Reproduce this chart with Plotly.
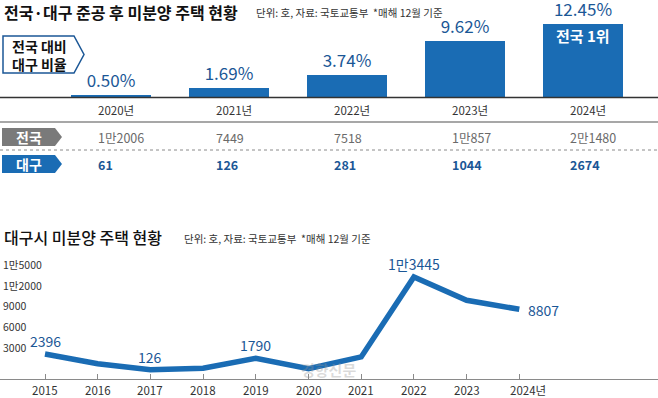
import plotly.graph_objects as go

# ---------------- data ----------------
bar_years = ["2020년", "2021년", "2022년", "2023년", "2024년"]
ratio_pct = [0.50, 1.69, 3.74, 9.62, 12.45]
national_unsold = ["1만2006", "7449", "7518", "1만857", "2만1480"]
daegu_unsold = ["61", "126", "281", "1044", "2674"]

line_years = [2015, 2016, 2017, 2018, 2019, 2020, 2021, 2022, 2023, 2024]
daegu_total = [2396, 1000, 126, 350, 1790, 280, 1977, 13445, 10104, 8807]
point_labels = ["2396", "", "126", "", "1790", "", "", "1만3445", "", "8807"]
x_tick_text = ["2015", "2016", "2017", "2018", "2019", "2020", "2021", "2022", "2023", "2024년"]
y_tick_vals = [3000, 6000, 9000, 12000, 15000]
y_tick_text = ["3000", "6000", "9000", "1만2000", "1만5000"]

# ---------------- style ----------------
W, H = 658, 398
BLUE = "#1a6cb4"
DBLUE = "#1b5796"
GRAY = "#7a7a7a"
NUM = "Noto Sans CJK KR, sans-serif"
KR = "Noto Sans CJK KR, sans-serif"


def px(p):
    return p / W


def py(p):
    return 1 - p / H


def path(pts):
    return "M " + " L ".join(f"{px(a):.5f},{py(b):.5f}" for a, b in pts) + " Z"


fig = go.Figure()

# top bar chart
fig.add_trace(go.Bar(
    x=list(range(len(ratio_pct))), y=ratio_pct, width=0.67,
    marker=dict(color=BLUE, line=dict(width=0)),
    text=[f"{v:.2f}%" for v in ratio_pct], textposition="outside",
    textfont=dict(family=NUM, size=17, color=DBLUE),
    constraintext="none", cliponaxis=False,
    xaxis="x", yaxis="y", hoverinfo="skip",
))

# bottom line chart
fig.add_trace(go.Scatter(
    x=line_years, y=daegu_total, mode="lines",
    line=dict(color=BLUE, width=5.5),
    xaxis="x2", yaxis="y2", hoverinfo="skip", cliponaxis=False,
))

bar_spacing = 118.0
bar0 = 111.0
line_spacing = 52.7
line0 = 45.0
y0_px, per1000 = 370.7, 6.97

fig.update_layout(
    width=W, height=H, margin=dict(l=0, r=0, t=0, b=0),
    paper_bgcolor="white", plot_bgcolor="rgba(0,0,0,0)",
    showlegend=False, bargap=0,
    xaxis=dict(domain=[0, 1], range=[-bar0 / bar_spacing, (W - bar0) / bar_spacing],
               visible=False, fixedrange=True),
    yaxis=dict(domain=[py(97.5), 1], range=[0, 97.5 / 5.9], visible=False),
    xaxis2=dict(domain=[0, 1], anchor="y2",
                range=[2015 - line0 / line_spacing, 2015 + (W - line0) / line_spacing],
                showline=True, linecolor="#8a8a8a", linewidth=1.2,
                showgrid=False, zeroline=False,
                ticks="inside", ticklen=5, tickcolor="#8a8a8a", tickwidth=1,
                tickvals=line_years, showticklabels=False),
    yaxis2=dict(domain=[py(379), py(255)],
                range=[-(379 - y0_px) / per1000 * 1000, (y0_px - 255) / per1000 * 1000],
                visible=False),
)

shapes = []
shapes.append(dict(type="line", xref="paper", yref="paper", x0=0, x1=1,
                   y0=py(97.5), y1=py(97.5), line=dict(color="#333", width=1.5)))
shapes.append(dict(type="line", xref="paper", yref="paper", x0=0, x1=1,
                   y0=py(122), y1=py(122), line=dict(color="#8a8a8a", width=1.5)))
shapes.append(dict(type="line", xref="paper", yref="paper", x0=0, x1=1,
                   y0=py(150), y1=py(150), line=dict(color="#8a8a8a", width=1, dash="dot")))
shapes.append(dict(type="path", xref="paper", yref="paper",
                   path=path([(3, 36), (74, 36), (84, 54.5), (74, 73), (3, 73)]),
                   fillcolor="white", line=dict(color=DBLUE, width=1.5)))
shapes.append(dict(type="path", xref="paper", yref="paper",
                   path=path([(2, 128), (55, 128), (62, 137), (55, 146), (2, 146)]),
                   fillcolor=GRAY, line=dict(width=0)))
shapes.append(dict(type="path", xref="paper", yref="paper",
                   path=path([(2, 155), (55, 155), (62, 164), (55, 173), (2, 173)]),
                   fillcolor=BLUE, line=dict(width=0)))

ann = []


def text(x, y, s, size, color="#222", family=KR, xanchor="left", bold=False, weight=None, **kw):
    f = dict(family=family, size=size, color=color)
    if bold:
        f["weight"] = "bold"
    if weight:
        f["weight"] = weight
    ann.append(dict(xref="paper", yref="paper", x=px(x), y=py(y), text=s,
                    showarrow=False, xanchor=xanchor, yanchor="middle", font=f, **kw))


# titles
text(2, 12, "전국·대구 준공 후 미분양 주택 현황", 16, "#111", bold=True)
text(254, 13, "단위: 호, 자료: 국토교통부  *매해 12월 기준", 10.5, "#333")
text(2, 237, "대구시 미분양 주택 현황", 16, "#111", weight=500)
text(182, 238, "단위: 호, 자료: 국토교통부  *매해 12월 기준", 10.5, "#333")

# ratio box text
text(39, 55, "전국 대비<br>대구 비율", 14, "#111", xanchor="center", bold=True)

# chevron labels
text(29, 137, "전국", 14, "white", xanchor="center", bold=True)
text(29, 164, "대구", 14, "white", xanchor="center", bold=True)

# inside label on top bar
ann.append(dict(xref="x", yref="paper", x=len(ratio_pct) - 1, y=py(36), text="전국 1위",
                showarrow=False, xanchor="center", yanchor="middle",
                font=dict(family=KR, size=15, color="white", weight="bold")))

# table
for i, (yr, nat, dg) in enumerate(zip(bar_years, national_unsold, daegu_unsold)):
    xv = i - 15 / bar_spacing
    for yy, s, col, sz, wt in [(110, yr, "#333", 11.5, "normal"),
                               (137, nat, "#6a6a6a", 12.5, "normal"),
                               (164, dg, DBLUE, 12.5, "bold")]:
        ann.append(dict(xref="x", yref="paper", x=xv, y=py(yy), text=s,
                        showarrow=False, xanchor="left", yanchor="middle",
                        font=dict(family=NUM, size=sz, color=col, weight=wt)))

# bottom y tick labels
for v, s in zip(y_tick_vals, y_tick_text):
    ann.append(dict(xref="paper", yref="y2", x=px(1), y=v, yshift=2, text=s,
                    showarrow=False, xanchor="left", yanchor="middle",
                    font=dict(family=NUM, size=10.5, color="#333")))

# bottom x tick labels
for xv, s in zip(line_years, x_tick_text):
    ann.append(dict(xref="x2", yref="paper", x=xv, y=py(390), text=s,
                    showarrow=False, xanchor="left" if s.endswith("년") else "center",
                    xshift=-11 if s.endswith("년") else 0, yanchor="middle",
                    font=dict(family=NUM, size=11.5, color="#333")))

# point labels
for xv, yv, s in zip(line_years, daegu_total, point_labels):
    if not s:
        continue
    if xv == line_years[-1]:
        ann.append(dict(xref="x2", yref="y2", x=xv, y=yv, text=s, showarrow=False,
                        xanchor="left", yanchor="middle", xshift=7, yshift=-1,
                        font=dict(family=NUM, size=14, color=DBLUE)))
    else:
        ann.append(dict(xref="x2", yref="y2", x=xv, y=yv, text=s, showarrow=False,
                        xanchor="center", yanchor="middle", yshift=13,
                        font=dict(family=NUM, size=14, color=DBLUE)))

# faint watermark
text(328, 369, "경향신문", 15, "rgba(150,150,150,0.35)", xanchor="center", bold=True)

fig.update_layout(shapes=shapes, annotations=ann)
fig.write_html("out.html", config={"displayModeBar": False},
               post_script="document.body.style.margin='0';document.body.style.overflow='hidden';")
